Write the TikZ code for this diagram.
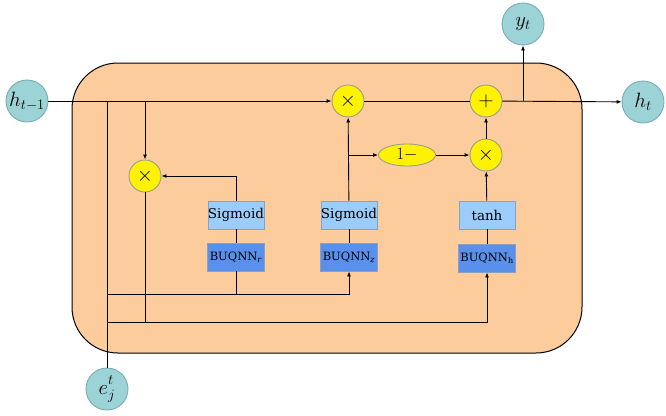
\documentclass[tikz,border=0pt]{standalone}
\usepackage{fontspec}
\newfontfamily\boxfont{DejaVu Serif}
\usetikzlibrary{arrows.meta,shapes.geometric}
\definecolor{peach}{RGB}{252,204,156}
\definecolor{tealc}{RGB}{156,211,214}
\definecolor{tealb}{RGB}{120,172,182}
\definecolor{sigc}{RGB}{156,204,250}
\definecolor{sigb}{RGB}{125,165,200}
\definecolor{buqc}{RGB}{88,144,236}
\definecolor{buqb}{RGB}{140,160,190}
\definecolor{opb}{RGB}{150,160,140}
\begin{document}
\begin{tikzpicture}[x=1pt,y=-1pt,
  ln/.style={line width=0.9pt,black},
  arr/.style={ln,-{Latex[length=5pt,width=4pt]}},
  ionode/.style={circle,fill=tealc,draw=tealb,line width=0.9pt,minimum size=42pt,inner sep=0pt,font=\fontsize{21}{24}\selectfont},
  op/.style={circle,fill=yellow,draw=opb,line width=0.9pt,minimum size=32pt,inner sep=0pt,font=\fontsize{21}{22}\selectfont},
  sigbox/.style={rectangle,fill=sigc,draw=sigb,line width=0.9pt,minimum width=56pt,minimum height=28pt,inner sep=0pt,font=\boxfont\fontsize{13.5}{15}\selectfont},
  buqbox/.style={rectangle,fill=buqc,draw=buqb,line width=0.9pt,minimum width=57pt,minimum height=28pt,inner sep=0pt,font=\boxfont\fontsize{11.5}{14}\selectfont}
]
\useasboundingbox (0,0) rectangle (666,415);
\draw[line width=1pt,fill=peach,rounded corners=46pt] (72,63) rectangle (582,353);

\node[ionode] (hprev) at (27,101) {$h_{t-1}$};
\node[ionode] (ht) at (643,102) {$h_t$};
\node[ionode] (yt) at (523,24) {$y_t$};
\node[ionode] (ej) at (107,389) {$e^{\raisebox{3pt}{$\scriptstyle t$}}_{j}$};

\node[op] (mr) at (145,176) {$\times$};
\node[op] (mz) at (348,101) {$\times$};
\node[op] (plus) at (486,101) {$+$};
\node[op] (mh) at (486,155) {$\times$};
\node[ellipse,fill=yellow,draw=opb,line width=0.9pt,minimum width=57pt,minimum height=22pt,inner sep=0pt,font=\fontsize{17}{19}\selectfont] (one) at (407,155) {$1-$};

\node[sigbox] (sigr) at (236,215) {Sigmoid};
\node[buqbox] (bur) at (236,257) {BUQNN\textsubscript{\textit{r}}};
\node[sigbox] (sigz) at (349,215) {Sigmoid};
\node[buqbox] (buz) at (349,257) {BUQNN\textsubscript{\textit{z}}};
\node[sigbox] (tanh) at (487,215) {tanh};
\node[buqbox] (buh) at (487,258) {BUQNN\textsubscript{h}};

\coordinate (a1) at (107,101);
\coordinate (a2) at (145,101);
\coordinate (b1) at (107,294);
\coordinate (b2) at (236,294);
\coordinate (c1) at (107,322);
\coordinate (c2) at (145,322);
\coordinate (d1) at (349,155);
\coordinate (e1) at (523,101);

\draw[arr] (hprev) -- (mz);
\draw[ln] (mz) -- (plus);
\draw[arr] (plus) -- (ht);
\draw[arr] (e1) -- (yt);
\draw[ln] (a1) -- (ej);
\draw[arr] (a2) -- (mr);
\draw[ln] (mr) -- (c2);
\draw[arr] (sigr.north) |- (mr.east);
\draw[ln] (sigr) -- (bur);
\draw[ln] (bur) -- (b2);
\draw[arr] (b1) -| (buz.south);
\draw[ln] (sigz) -- (buz);
\draw[arr] (sigz) -- (mz);
\draw[arr] (d1) -- (one);
\draw[arr] (one) -- (mh);
\draw[arr] (mh) -- (plus);
\draw[arr] (tanh) -- (mh);
\draw[ln] (tanh) -- (buh);
\draw[arr] (c1) -| (buh.south);
\end{tikzpicture}
\end{document}
